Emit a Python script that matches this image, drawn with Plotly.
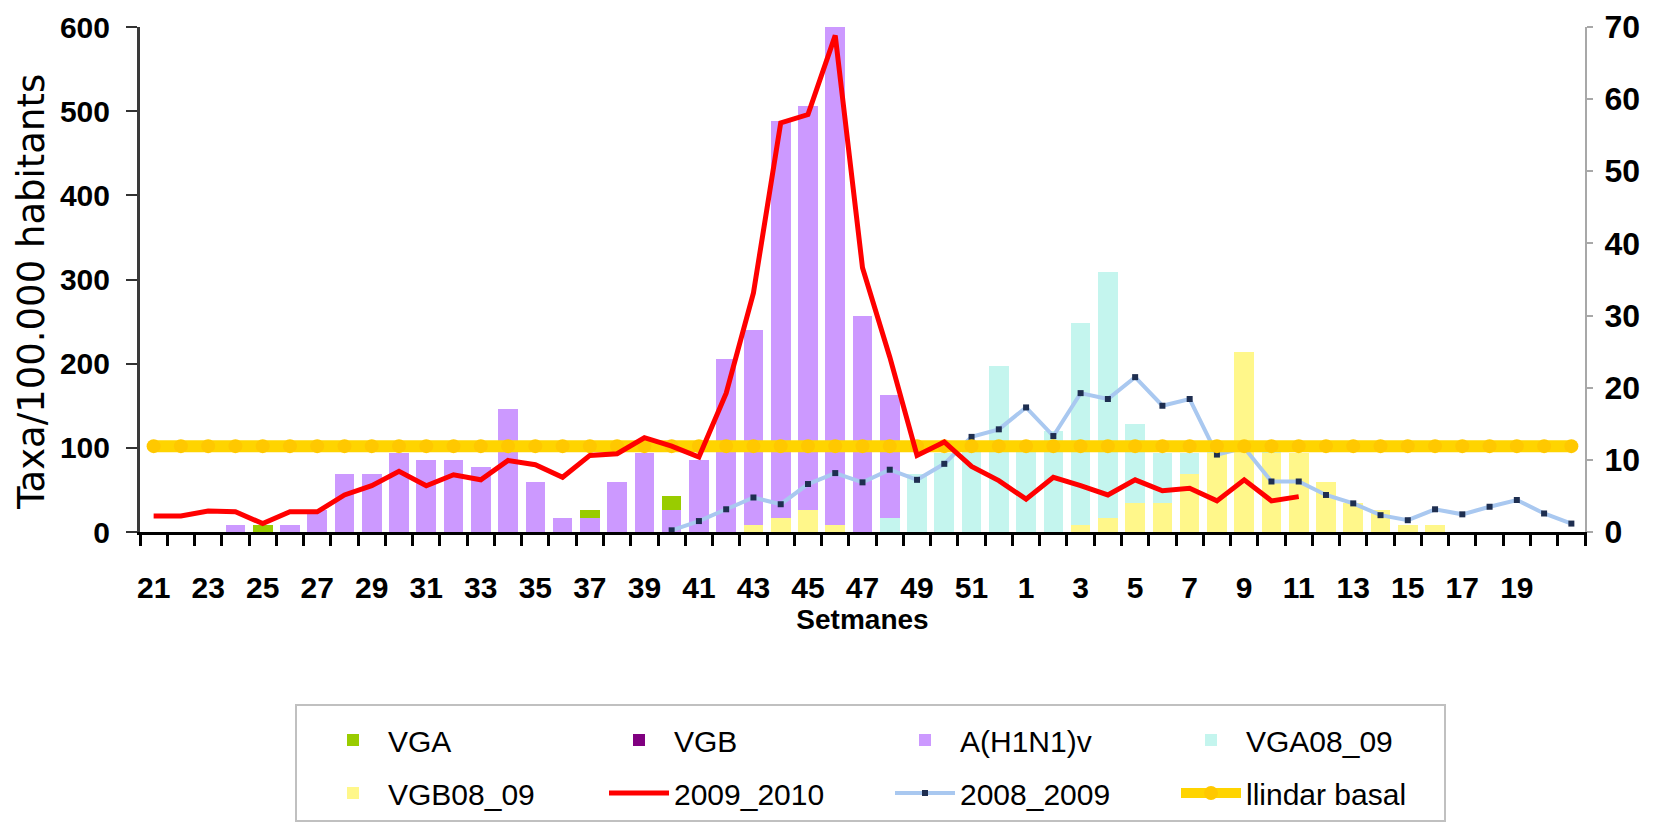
import plotly.graph_objects as go

# ---------------- data ----------------
weeks = [21, 22, 23, 24, 25, 26, 27, 28, 29, 30, 31, 32, 33, 34, 35, 36, 37, 38, 39, 40,
         41, 42, 43, 44, 45, 46, 47, 48, 49, 50, 51, 52, 1, 2, 3, 4, 5, 6, 7, 8,
         9, 10, 11, 12, 13, 14, 15, 16, 17, 18, 19, 20, 21]

# virological detections (right axis)
vga = [0, 0, 0, 0, 1, 0, 0, 0, 0, 0, 0, 0, 0, 0, 0, 0, 1, 0, 0, 2,
       0, 0, 0, 0, 0, 0, 0, 0, 0, 0, 0, 0, 0, 0, 0, 0, 0, 0, 0, 0,
       0, 0, 0, 0, 0, 0, 0, 0, 0, 0, 0, 0, 0]
vgb = [0, 0, 0, 0, 0, 0, 0, 0, 0, 0, 0, 0, 0, 0, 0, 0, 0, 0, 0, 0,
       0, 0, 0, 0, 0, 0, 0, 0, 0, 0, 0, 0, 0, 0, 0, 0, 0, 0, 0, 0,
       0, 0, 0, 0, 0, 0, 0, 0, 0, 0, 0, 0, 0]
h1n1 = [0, 0, 0, 1, 0, 1, 3, 8, 8, 11, 10, 10, 9, 17, 7, 2, 2, 7, 11, 3,
        10, 24, 27, 55, 56, 69, 30, 17, 0, 0, 0, 0, 0, 0, 0, 0, 0, 0, 0, 0,
        0, 0, 0, 0, 0, 0, 0, 0, 0, 0, 0, 0, 0]
vga08_09 = [0, 0, 0, 0, 0, 0, 0, 0, 0, 0, 0, 0, 0, 0, 0, 0, 0, 0, 0, 0,
            0, 0, 0, 0, 0, 0, 0, 2, 8, 11, 12, 23, 12, 14, 28, 34, 11, 7, 3, 1,
            0, 1, 0, 0, 0, 0, 0, 0, 0, 0, 0, 0, 0]
vgb08_09 = [0, 0, 0, 0, 0, 0, 0, 0, 0, 0, 0, 0, 0, 0, 0, 0, 0, 0, 0, 0,
            0, 0, 1, 2, 3, 1, 0, 0, 0, 0, 0, 0, 0, 0, 1, 2, 4, 4, 8, 11,
            25, 11, 11, 7, 4, 3, 1, 1, 0, 0, 0, 0, 0]

# rates per 100,000 (left axis)
rate_2009_2010 = [19, 19, 25, 24, 10, 24, 24, 44, 55, 72, 55, 68, 62, 85, 80, 65, 91, 93, 112, 102,
                  89, 165, 284, 486, 496, 590, 314, 208, 91, 107, 78, 61, 39, 65, 55, 44, 62, 49, 52, 37,
                  62, 37, 42, None, None, None, None, None, None, None, None, None, None]
rate_2008_2009 = [None, None, None, None, None, None, None, None, None, None, None, None, None, None, None, None, None, None, None, 2,
                  13, 27, 41, 33, 57, 70, 59, 74, 62, 81, 113, 122, 148, 114, 165, 158, 184, 150, 158, 92,
                  100, 60, 60, 44, 34, 20, 14, 27, 21, 30, 38, 22, 10]
llindar_basal = [102, 102, 102, 102, 102, 102, 102, 102, 102, 102, 102, 102, 102, 102, 102, 102, 102, 102, 102, 102,
                 102, 102, 102, 102, 102, 102, 102, 102, 102, 102, 102, 102, 102, 102, 102, 102, 102, 102, 102, 102,
                 102, 102, 102, 102, 102, 102, 102, 102, 102, 102, 102, 102, 102]

x = list(range(len(weeks)))
label_idx = x[0:51:2]
label_txt = [str(weeks[i]) for i in label_idx]

# ---------------- figure ----------------
W, H = 1673, 823
PAGE_OFF = 8                     # default body margin of the html page
PLOT_L, PLOT_R, PLOT_T, PLOT_B = 140, 1585, 27, 532   # target plot area in page pixels
ML = PLOT_L - PAGE_OFF
MT = PLOT_T - PAGE_OFF
PW, PH = PLOT_R - PLOT_L, PLOT_B - PLOT_T
MR = W - ML - PW
MB = H - MT - PH


def px_to_paper_x(p):
    return (p - PLOT_L) / PW


def px_to_paper_y(p):
    return (PLOT_B - p) / PH


fig = go.Figure()

bar_specs = [
    ("VGB08_09", vgb08_09, "#FFF78A", "legend2", 1),
    ("VGA08_09", vga08_09, "#C4F5EE", "legend", 4),
    ("A(H1N1)v", h1n1, "#CC99FF", "legend", 3),
    ("VGB", vgb, "#800080", "legend", 2),
    ("VGA", vga, "#99CC00", "legend", 1),
]
for name, vals, col, leg, rank in bar_specs:
    fig.add_trace(go.Bar(
        x=x, y=vals, name=name, marker=dict(color=col, line=dict(width=0)),
        yaxis="y", legend=leg, legendrank=rank,
    ))

fig.add_trace(go.Scatter(
    x=x, y=rate_2008_2009, name="2008_2009", mode="lines+markers",
    line=dict(color="#A9C8F0", width=4),
    marker=dict(symbol="square", size=6, color="#1E2E50"),
    yaxis="y2", legend="legend2", legendrank=3,
))
fig.add_trace(go.Scatter(
    x=x, y=llindar_basal, name="llindar basal", mode="lines+markers",
    line=dict(color="#FFD400", width=12),
    marker=dict(symbol="circle", size=14, color="#FFC800"),
    yaxis="y2", legend="legend2", legendrank=4,
))
fig.add_trace(go.Scatter(
    x=x, y=rate_2009_2010, name="2009_2010", mode="lines",
    line=dict(color="#FF0000", width=5),
    yaxis="y2", legend="legend2", legendrank=2,
))

tick_font = dict(family="Liberation Sans, Arial", size=30, color="black", weight="bold")
legend_font = dict(family="Liberation Sans, Arial", size=30, color="black")

fig.update_layout(
    width=W, height=H,
    margin=dict(l=ML, r=MR, t=MT, b=MB, autoexpand=False),
    paper_bgcolor="white", plot_bgcolor="white",
    barmode="stack", bargap=0.28,
    font=dict(family="Liberation Sans, Arial", color="black"),
    xaxis=dict(
        range=[-0.5, 52.5], tickmode="array", tickvals=label_idx, ticktext=label_txt,
        ticks="", showline=True, linecolor="black", linewidth=3, showgrid=False, zeroline=False,
        tickfont=tick_font, ticklabelstandoff=27,
        minor=dict(tickmode="array", tickvals=[i - 0.5 for i in range(len(weeks) + 1)],
                   ticks="outside", ticklen=11, tickwidth=3, tickcolor="black", showgrid=False),
        title=dict(text="Setmanes", font=dict(family="Liberation Sans, Arial", size=28,
                                             color="black", weight="bold"), standoff=0),
        automargin=False,
    ),
    yaxis=dict(
        side="right", range=[0, 70], tickmode="linear", tick0=0, dtick=10,
        showline=True, linecolor="#A8A8A8", linewidth=2, showgrid=False, zeroline=False,
        ticks="outside", ticklen=6, tickcolor="#A8A8A8", tickwidth=2,
        tickfont=dict(family="Liberation Sans, Arial", size=32, color="black", weight="bold"),
        ticklabelstandoff=5, automargin=False,
    ),
    yaxis2=dict(
        overlaying="y", side="left", range=[0, 600], tickmode="linear", tick0=0, dtick=100,
        showline=True, linecolor="#3A3A3A", linewidth=3, showgrid=False, zeroline=False,
        ticks="outside", ticklen=11, tickcolor="#333333", tickwidth=2,
        tickfont=tick_font, ticklabelstandoff=10, automargin=False,
    ),
    annotations=[dict(
        text="Taxa/100.000 habitants", textangle=-90, showarrow=False,
        xref="paper", yref="paper", x=px_to_paper_x(31), y=px_to_paper_y(292),
        xanchor="center", yanchor="middle",
        font=dict(family="DejaVu Sans", size=37, color="black"),
    )],
    legend=dict(
        orientation="h", x=px_to_paper_x(318), xanchor="left",
        y=px_to_paper_y(740), yanchor="middle", font=legend_font,
        itemwidth=60, entrywidth=211, entrywidthmode="pixels",
        bgcolor="rgba(0,0,0,0)", borderwidth=0, traceorder="normal",
    ),
    legend2=dict(
        orientation="h", x=px_to_paper_x(318), xanchor="left",
        y=px_to_paper_y(793), yanchor="middle", font=legend_font,
        itemwidth=60, entrywidth=211, entrywidthmode="pixels",
        bgcolor="rgba(0,0,0,0)", borderwidth=0, traceorder="normal",
    ),
    shapes=[dict(
        type="rect", xref="paper", yref="paper",
        x0=px_to_paper_x(296), x1=px_to_paper_x(1445),
        y0=px_to_paper_y(705), y1=px_to_paper_y(821),
        line=dict(color="#C0C0C0", width=2), fillcolor="rgba(0,0,0,0)", layer="below",
    )],
)

fig.write_html("out.html")
